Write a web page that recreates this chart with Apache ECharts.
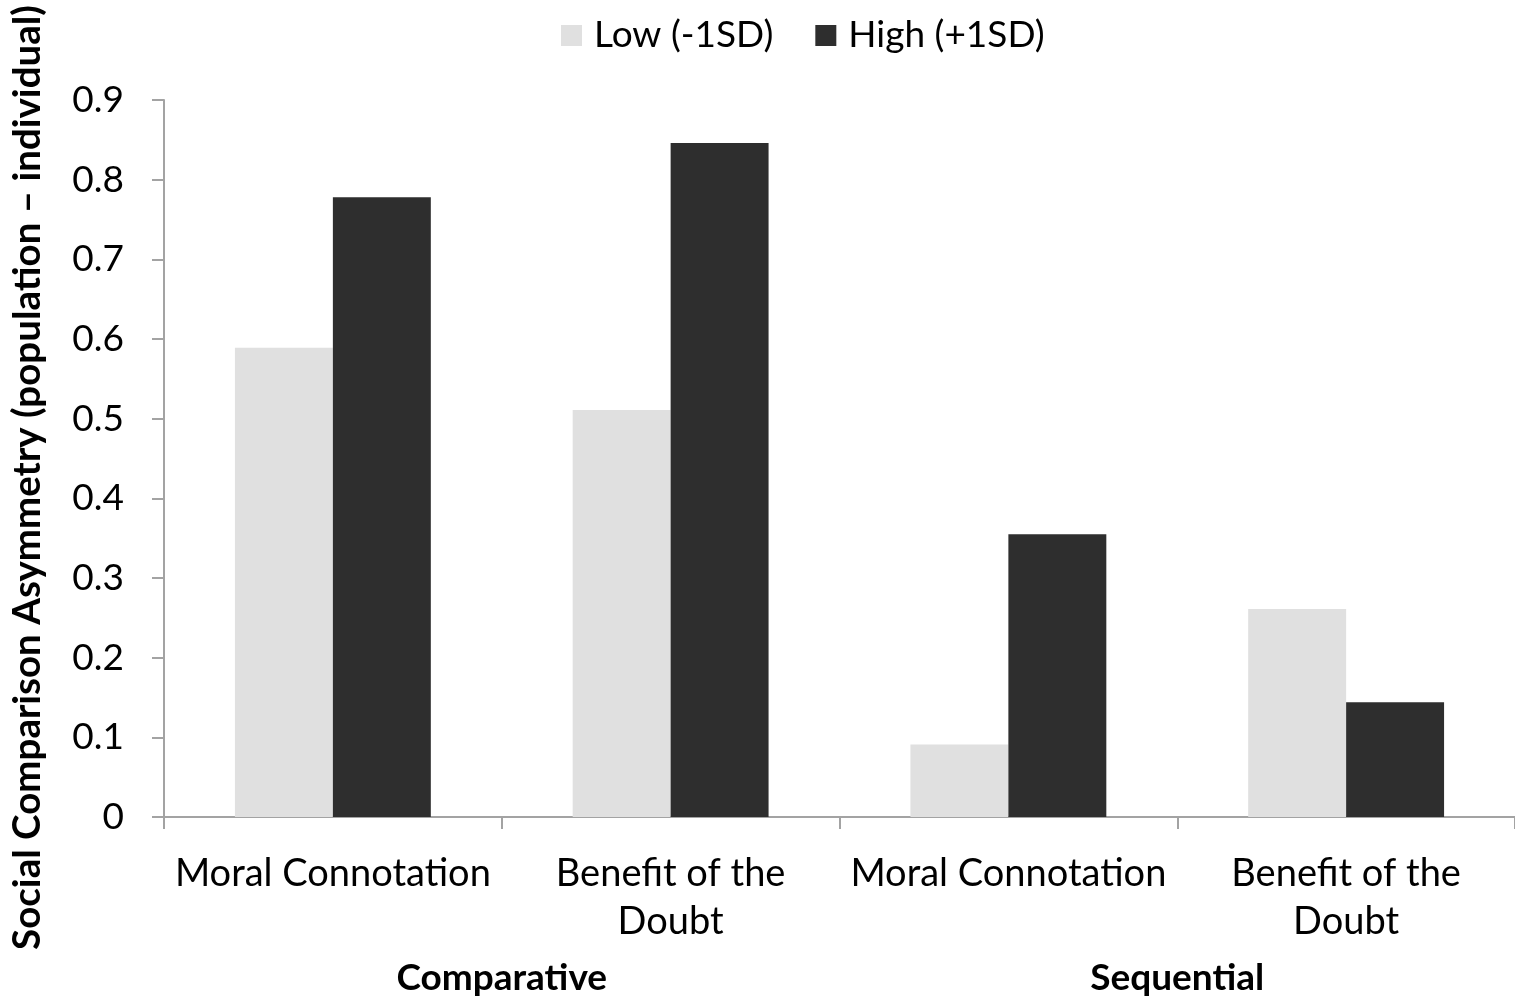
<!DOCTYPE html>
<html>
<head>
<meta charset="utf-8">
<script src="https://cdn.jsdelivr.net/npm/echarts@6/dist/echarts.min.js"></script>
<style>
  html, body { margin: 0; padding: 0; background: #fff; overflow: hidden; }
  #chart { width: 1515px; height: 1002px; }
</style>
</head>
<body>
<div id="chart"></div>
<script>
// Categories (inner level) and their grouping (outer level)
const categories = ['Moral Connotation', 'Benefit of the\nDoubt', 'Moral Connotation', 'Benefit of the\nDoubt'];
const groups = ['Comparative', 'Sequential'];

// Series values
const lowValues = [0.589, 0.511, 0.091, 0.261];
const highValues = [0.778, 0.846, 0.355, 0.144];

const seriesNames = ['Low (-1SD)', 'High (+1SD)'];
const yTicks = [0, 0.1, 0.2, 0.3, 0.4, 0.5, 0.6, 0.7, 0.8, 0.9];

const FONT = 'Lato';
const axisGray = '#a3a3a3';

const chart = echarts.init(document.getElementById('chart'), null, { renderer: 'canvas' });

chart.setOption({
  backgroundColor: '#ffffff',
  animation: false,
  textStyle: { fontFamily: FONT, color: '#000' },
  legend: {
    top: 12,
    left: 556,
    itemWidth: 21,
    itemHeight: 21,
    itemGap: 42,
    icon: 'rect',
    textStyle: { fontFamily: FONT, fontSize: 37, color: '#000', padding: [0, 0, 0, 7] },
    data: seriesNames
  },
  grid: { left: 154, right: 0, top: 100, bottom: 185, containLabel: false },
  xAxis: [
    {
      type: 'category',
      data: categories,
      axisLine: { show: true, lineStyle: { color: axisGray, width: 2 } },
      axisTick: { show: true, length: 12, alignWithLabel: false, lineStyle: { color: axisGray, width: 2 } },
      axisLabel: {
        interval: 0,
        margin: 33,
        fontFamily: FONT,
        fontSize: 38,
        lineHeight: 48,
        color: '#000'
      }
    },
    {
      type: 'category',
      position: 'bottom',
      data: groups,
      axisLine: { show: false },
      axisTick: { show: false },
      axisLabel: {
        interval: 0,
        margin: 143,
        fontFamily: FONT,
        fontSize: 37,
        fontWeight: 'bold',
        color: '#000'
      }
    }
  ],
  yAxis: {
    type: 'value',
    min: 0,
    max: 0.9,
    interval: 0.1,
    name: 'Social Comparison Asymmetry (population \u2013 individual)',
    nameLocation: 'middle',
    nameGap: 117,
    nameTextStyle: { fontFamily: FONT, fontSize: 38.5, fontWeight: 'bold', color: '#000', padding: [0, 0, 0, -38] },
    axisLine: { show: true, lineStyle: { color: axisGray, width: 2 } },
    axisTick: { show: true, length: 12, lineStyle: { color: axisGray, width: 2 } },
    splitLine: { show: false },
    axisLabel: {
      margin: 40,
      fontFamily: FONT,
      fontSize: 37,
      color: '#000',
      formatter: v => (v === 0 ? '0' : v.toFixed(1))
    }
  },
  series: [
    {
      name: seriesNames[0],
      type: 'bar',
      data: lowValues,
      barGap: '0%',
      barCategoryGap: '42%',
      itemStyle: { color: '#e0e0e0' }
    },
    {
      name: seriesNames[1],
      type: 'bar',
      data: highValues,
      barGap: '0%',
      barCategoryGap: '42%',
      itemStyle: { color: '#2e2e2e' }
    }
  ]
});
</script>
</body>
</html>
